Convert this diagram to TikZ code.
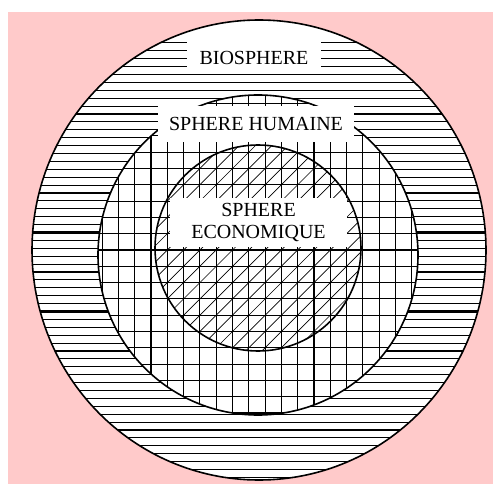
\documentclass[tikz,border=0pt]{standalone}
\usepackage{fontspec}
\setmainfont{Liberation Serif}
\definecolor{bgpink}{RGB}{255,202,202}
\begin{document}
\begin{tikzpicture}[x=1pt,y=-1pt,
  thinline/.style={line width=1.1pt,black},
  thickline/.style={line width=2.2pt,black},
  hatchline/.style={line width=0.7pt,black},
  rim/.style={line width=1.6pt,black},
  labelbox/.style={fill=white,inner sep=0pt,align=center,
    font=\fontsize{20}{21}\selectfont}]
\useasboundingbox (0,0) rectangle (493,484);
\fill[white] (0,0) rectangle (493,484);
\fill[bgpink] (8,12) rectangle (493,484);
% outer disc
\fill[white] (259,250) ellipse [x radius=227, y radius=230];
\begin{scope}
  \clip (259,250) ellipse [x radius=227, y radius=230];
  \foreach \i in {-19,...,36} {
    \pgfmathsetmacro\yy{193+7.9*\i}
    \draw[thinline] (0,\yy) -- (493,\yy);
  }
  \foreach \i in {0,5,10,15} {
    \pgfmathsetmacro\yy{193+7.9*\i}
    \draw[thickline] (0,\yy) -- (493,\yy);
  }
\end{scope}
% middle disc: grid
\fill[white] (258,255) circle [radius=160];
\begin{scope}
  \clip (258,255) circle [radius=160];
  \foreach \k in {-4,...,17} {
    \pgfmathsetmacro\xx{151+16.3*\k}
    \draw[thinline] (\xx,80) -- (\xx,430);
  }
  \foreach \m in {-11,...,11} {
    \pgfmathsetmacro\yy{250+16.3*\m}
    \draw[thinline] (80,\yy) -- (430,\yy);
  }
\end{scope}
% inner disc: diagonal hatch
\begin{scope}
  \clip (258,248) circle [radius=103];
  \foreach \n in {-3,...,16} {
    \pgfmathsetmacro\cc{401+16.3*\n}
    \draw[hatchline] ({\cc-360},360) -- ({\cc-135},135);
  }
\end{scope}
% rims
\draw[rim] (259,250) ellipse [x radius=227, y radius=230];
\draw[rim] (258,255) circle [radius=160];
\draw[rim] (258,248) circle [radius=103];
% labels
\node[labelbox,minimum width=134pt,minimum height=31pt] (bio) at (254,57.5) {BIOSPHERE};
\node[labelbox,minimum width=196pt,minimum height=36pt] (hum) at (256,124) {SPHERE HUMAINE};
\node[labelbox,minimum width=177pt,minimum height=49pt] (eco) at (258.5,222.5) {SPHERE\\ECONOMIQUE};
\end{tikzpicture}
\end{document}
